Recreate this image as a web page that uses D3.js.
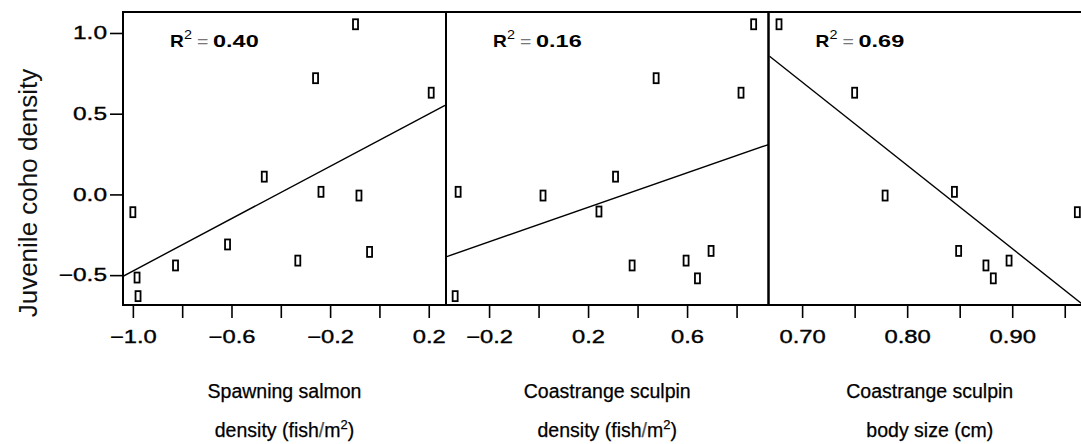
<!DOCTYPE html>
<html>
<head>
<meta charset="utf-8">
<script src="https://cdn.jsdelivr.net/npm/d3@7"></script>
<style>
  body { margin: 0; background: #fff; }
  svg { display: block; font-family: "Liberation Sans", Arial, sans-serif; }
</style>
</head>
<body>
<svg id="chart" width="1081" height="444"></svg>
<script>
// Juvenile coho density against three stream predictors
const yTicks = [-0.5, 0.0, 0.5, 1.0];
const yDomain = [-0.685, 1.13];

// Panel 1: spawning salmon density
const salmonX = [-1.00, -0.983, -0.979, -0.827, -0.616, -0.467, -0.331, -0.259, -0.237, -0.097, -0.083, -0.040, 0.210];
const salmonY = [-0.11, -0.515, -0.63, -0.44, -0.31, 0.11, -0.41, 0.72, 0.016, 1.054, -0.007, -0.356, 0.63];
const salmonFit = [[-1.04, -0.507], [0.266, 0.552]];
const salmonTicks = [-1.0, -0.8, -0.6, -0.4, -0.2, 0.0, 0.2];
const salmonLabels = ["\u22121.0", "", "\u22120.6", "", "\u22120.2", "", "0.2"];

// Panel 2: coastrange sculpin density
const sculpinDensX = [-0.325, -0.337, 0.018, 0.244, 0.311, 0.378, 0.475, 0.596, 0.642, 0.697, 0.818, 0.869];
const sculpinDensY = [0.016, -0.63, -0.007, -0.106, 0.11, -0.44, 0.72, -0.41, -0.52, -0.35, 0.63, 1.054];
const sculpinDensFit = [[-0.374, -0.387], [0.929, 0.309]];
const sculpinDensTicks = [-0.2, 0.0, 0.2, 0.4, 0.6, 0.8];
const sculpinDensLabels = ["\u22120.2", "", "0.2", "", "0.6", ""];

// Panel 3: coastrange sculpin body size
const sculpinSizeX = [0.678, 0.750, 0.779, 0.845, 0.849, 0.875, 0.882, 0.897, 0.962];
const sculpinSizeY = [1.054, 0.63, -0.007, 0.016, -0.35, -0.44, -0.52, -0.41, -0.11];
const sculpinSizeFit = [[0.669, 0.856], [0.966, -0.676]];
const sculpinSizeTicks = [0.70, 0.75, 0.80, 0.85, 0.90, 0.95];
const sculpinSizeLabels = ["0.70", "", "0.80", "", "0.90", ""];

const rSquared = ["0.40", "0.16", "0.69"];
const titles = [
  ["Spawning salmon", "density (fish", "m", "2"],
  ["Coastrange sculpin", "density (fish", "m", "2"],
  ["Coastrange sculpin", "body size (cm)"]
];

const panels = [
  { x: salmonX, y: salmonY, fit: salmonFit, ticks: salmonTicks, labels: salmonLabels, domain: [-1.04, 0.27], left: 123, right: 446 },
  { x: sculpinDensX, y: sculpinDensY, fit: sculpinDensFit, ticks: sculpinDensTicks, labels: sculpinDensLabels, domain: [-0.374, 0.929], left: 446, right: 768.5 },
  { x: sculpinSizeX, y: sculpinSizeY, fit: sculpinSizeFit, ticks: sculpinSizeTicks, labels: sculpinSizeLabels, domain: [0.668, 0.975], left: 768.5, right: 1091 }
];

const plotTop = 12, plotBottom = 305;
const FONT = "Liberation Sans, Arial, sans-serif";
const svg = d3.select("#chart");
const y = d3.scaleLinear().domain(yDomain).range([plotBottom, plotTop]);

// widen numeric labels horizontally (wide digit style)
function widen(sel, factor) {
  sel.each(function () {
    const w = this.getComputedTextLength();
    if (w > 0) {
      this.setAttribute("textLength", (w * factor).toFixed(1));
      this.setAttribute("lengthAdjust", "spacingAndGlyphs");
    }
  });
}

// y axis
const yAxis = svg.append("g").attr("transform", `translate(${panels[0].left},0)`)
  .call(d3.axisLeft(y).tickValues(yTicks).tickSize(13).tickPadding(3)
    .tickFormat(d => d < 0 ? "\u2212" + Math.abs(d).toFixed(1) : d.toFixed(1)));
yAxis.select(".domain").remove();
yAxis.selectAll("line").attr("stroke", "#000").attr("stroke-width", 1.6);
yAxis.selectAll("text").attr("font-size", 18).attr("fill", "#000").attr("font-family", FONT)
  .attr("stroke", "#000").attr("stroke-width", 0.35);
widen(yAxis.selectAll("text"), 1.36);

svg.append("text")
  .attr("transform", `translate(37,193) rotate(-90)`)
  .attr("text-anchor", "middle")
  .attr("font-size", 26)
  .attr("fill", "#111")
  .text("Juvenile coho density");

panels.forEach((p, i) => {
  const x = d3.scaleLinear().domain(p.domain).range([p.left, p.right]);
  const g = svg.append("g");
  const clipId = "clip" + i;
  svg.append("clipPath").attr("id", clipId)
    .append("rect").attr("x", p.left).attr("y", plotTop).attr("width", p.right - p.left).attr("height", plotBottom - plotTop);

  // x axis
  const xa = svg.append("g").attr("transform", `translate(0,${plotBottom})`)
    .call(d3.axisBottom(x).tickValues(p.ticks).tickSize(13).tickPadding(12)
      .tickFormat((d, k) => p.labels[k]));
  xa.select(".domain").remove();
  xa.selectAll("line").attr("stroke", "#000").attr("stroke-width", 1.6);
  xa.selectAll("text").attr("font-size", 18).attr("fill", "#000").attr("font-family", FONT)
    .attr("stroke", "#000").attr("stroke-width", 0.35);
  widen(xa.selectAll("text"), 1.32);

  // regression line
  g.append("line")
    .attr("clip-path", `url(#${clipId})`)
    .attr("x1", x(p.fit[0][0])).attr("y1", y(p.fit[0][1]))
    .attr("x2", x(p.fit[1][0])).attr("y2", y(p.fit[1][1]))
    .attr("stroke", "#000").attr("stroke-width", 1.4);

  // points
  g.selectAll("rect.pt").data(p.x.map((v, k) => [v, p.y[k]])).enter()
    .append("rect").attr("class", "pt")
    .attr("x", d => x(d[0]) - 2.5).attr("y", d => y(d[1]) - 5)
    .attr("width", 5).attr("height", 10)
    .attr("fill", "#fff").attr("stroke", "#000").attr("stroke-width", 1.8);

  // panel frame
  g.append("rect")
    .attr("x", p.left).attr("y", plotTop).attr("width", p.right - p.left).attr("height", plotBottom - plotTop)
    .attr("fill", "none").attr("stroke", "#000").attr("stroke-width", 2);

  // R squared annotation
  const rx = p.left + 47, ry = 47;
  const rg = svg.append("g").attr("font-family", FONT).attr("fill", "#000");
  rg.append("text").attr("x", rx).attr("y", ry).attr("font-size", 17).attr("font-weight", "bold").text("R")
    .call(s => widen(s, 1.12));
  rg.append("text").attr("x", rx + 14).attr("y", ry - 8).attr("font-size", 12).text("2")
    .call(s => widen(s, 1.2));
  rg.append("text").attr("x", rx + 27).attr("y", ry).attr("font-size", 17).attr("fill", "#777").text("=")
    .call(s => widen(s, 1.15));
  rg.append("text").attr("x", rx + 43).attr("y", ry).attr("font-size", 17).attr("font-weight", "bold").text(rSquared[i])
    .call(s => widen(s, 1.38));

  // x title
  const cx = (p.left + p.right) / 2;
  const t = titles[i];
  svg.append("text").attr("x", cx).attr("y", 398).attr("text-anchor", "middle")
    .attr("font-size", 19.5).attr("fill", "#000").attr("stroke", "#000").attr("stroke-width", 0.25)
    .text(t[0]);
  const t2 = svg.append("text").attr("x", cx).attr("y", 437).attr("text-anchor", "middle")
    .attr("font-size", 19.5).attr("fill", "#000").attr("stroke", "#000").attr("stroke-width", 0.25);
  if (t.length > 2) {
    t2.append("tspan").text(t[1]);
    t2.append("tspan").attr("fill", "#555").attr("stroke", "#555").text("/");
    t2.append("tspan").text(t[2]);
    t2.append("tspan").attr("dy", -8).attr("font-size", 13).text(t[3]);
    t2.append("tspan").attr("dy", 8).text(")");
  } else {
    t2.text(t[1]);
  }
});
</script>
</body>
</html>
